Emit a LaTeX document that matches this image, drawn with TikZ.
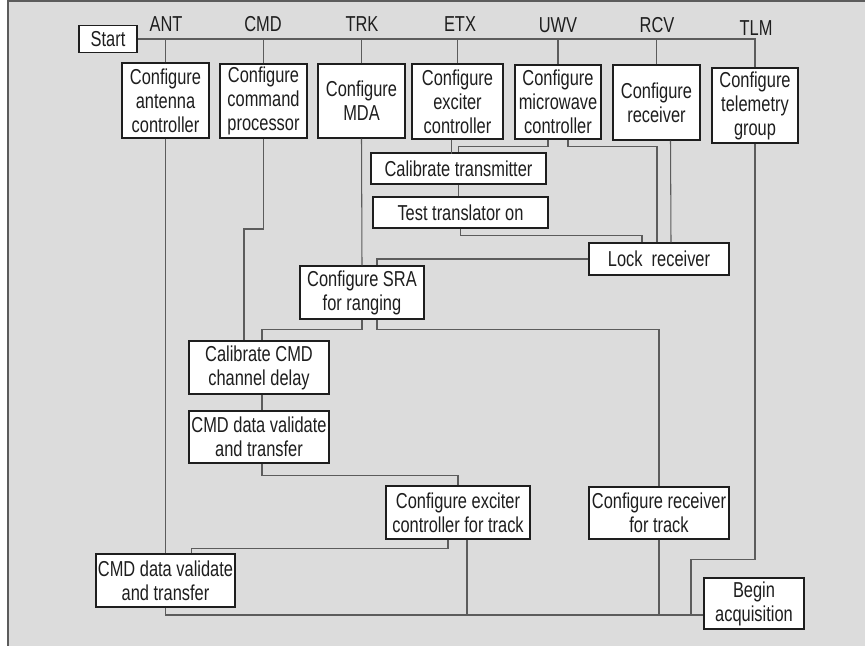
\documentclass[tikz,border=0pt]{standalone}
\usepackage{fontspec}
\setmainfont{Liberation Sans}[FakeStretch=0.76]
\usepackage{tikz}
\usetikzlibrary{calc}

\definecolor{paper}{HTML}{DCDCDC}
\definecolor{wirecol}{HTML}{5C5C5C}
\definecolor{inkcol}{HTML}{1E1E1E}

\tikzset{
  box/.style={draw=inkcol, line width=0.8pt, fill=white, text=inkcol, align=center, inner sep=0pt,
    font=\fontsize{12.3pt}{13.7pt}\selectfont},
  lbl/.style={text=inkcol, inner sep=0pt, font=\fontsize{12.3pt}{13.7pt}\selectfont},
  wire/.style={draw=wirecol, line width=0.6pt}
}

\begin{document}
\begin{tikzpicture}[x=0.02cm, y=-0.02cm]

\useasboundingbox (0,0) rectangle (865,646);
\fill [paper] (8,0) rectangle (865,646);
\draw [wirecol, line width=0.6pt] (8,0) -- (8,646);
\draw [wirecol, line width=0.6pt] (8,1) -- (865,1);

\node [box, minimum width=1.16cm, minimum height=0.54cm] (start) at (108,39) {Start};

\node [lbl] (lant) at (166,24) {ANT};
\node [lbl] (lcmd) at (263,24) {CMD};
\node [lbl] (ltrk) at (362,24) {TRK};
\node [lbl] (letx) at (460,24) {ETX};
\node [lbl] (luwv) at (558,25) {UWV};
\node [lbl] (lrcv) at (657,25) {RCV};
\node [lbl] (ltlm) at (756,28) {TLM};

\node [box, minimum width=1.74cm, minimum height=1.5cm] (ant) at (165.5,100.5) {Configure\\antenna\\controller};
\node [box, minimum width=1.74cm, minimum height=1.48cm] (cmd) at (263.5,101) {Configure\\command\\processor};
\node [box, minimum width=1.74cm, minimum height=1.48cm] (mda) at (361.5,101) {Configure\\MDA};
\node [box, minimum width=1.82cm, minimum height=1.5cm] (etx) at (457.5,101.5) {Configure\\exciter\\controller};
\node [box, minimum width=1.72cm, minimum height=1.48cm] (uwv) at (558,102) {Configure\\microwave\\controller};
\node [box, minimum width=1.74cm, minimum height=1.5cm] (rcv) at (656.5,102.5) {Configure\\receiver};
\node [box, minimum width=1.72cm, minimum height=1.5cm] (tlm) at (755,105.5) {Configure\\telemetry\\group};

\node [box, minimum width=3.5cm, minimum height=0.62cm] (caltx) at (458.5,168.5) {Calibrate transmitter};
\node [box, minimum width=3.5cm, minimum height=0.62cm] (testtr) at (460.5,212.5) {Test translator on};
\node [box, minimum width=2.8cm, minimum height=0.64cm] (lockrx) at (659,259) {Lock\ \ receiver};
\node [box, minimum width=2.48cm, minimum height=1.06cm] (sra) at (362,292.5) {Configure SRA\\for ranging};
\node [box, minimum width=2.8cm, minimum height=1.06cm] (calcmd) at (259,367.5) {Calibrate CMD\\channel delay};
\node [box, minimum width=2.8cm, minimum height=1.04cm] (cmdval) at (259,437) {CMD data validate\\and transfer};
\node [box, minimum width=2.88cm, minimum height=1.06cm] (exctrk) at (458,512.5) {Configure exciter\\controller for track};
\node [box, minimum width=2.8cm, minimum height=1.04cm] (rcvtrk) at (659,513) {Configure receiver\\for track};
\node [box, minimum width=2.78cm, minimum height=1.06cm] (cmdval2) at (165.5,580.5) {CMD data validate\\and transfer};
\node [box, minimum width=2.0cm, minimum height=1.02cm] (begacq) at (754,603.5) {Begin\\acquisition};

\coordinate (cmdjog) at (244,229);

% start bus
\draw [wire] (start.east) -| (tlm.north);
\draw [wire] (ant.north) -- (ant.north |- start.east);
\draw [wire] (cmd.north) -- (cmd.north |- start.east);
\draw [wire] (mda.north) -- (mda.north |- start.east);
\draw [wire] (etx.north) -- (etx.north |- start.east);
\draw [wire] (uwv.north) -- (uwv.north |- start.east);
\draw [wire] (rcv.north) -- (rcv.north |- start.east);

\draw [wire] (ant.south) -- (cmdval2.north);
\draw [wire] (cmd.south) |- (cmdjog) -- (cmdjog |- calcmd.north);
\draw [wire] (mda.south) -- (sra.north);

\draw [wire] ($(etx.south)+(-6,0)$) -- ++(0,14);
\draw [wire] ($(uwv.south)+(-10,0)$) -- ++(0,7) -| (caltx.north);
\draw [wire] ($(uwv.south)+(10,0)$) -- ++(0,7) -| ($(lockrx.north)+(-2,0)$);
\draw [wire] ($(rcv.south)+(14,0)$) -- ($(lockrx.north)+(12,0)$);
\draw [wire] (caltx.south) -- (caltx.south |- testtr.north);
\draw [wire] (testtr.south) -- ++(0,7) -| ($(lockrx.north)+(-17,0)$);
\draw [wire] (lockrx.west) -| ($(sra.north)+(15,0)$);

\draw [wire] (sra.south) -- ++(0,10) -| ($(calcmd.north)+(3,0)$);
\draw [wire] ($(sra.south)+(15,0)$) -- ++(0,10) -| (rcvtrk.north);
\draw [wire] ($(calcmd.south)+(3,0)$) -- ($(cmdval.north)+(3,0)$);
\draw [wire] ($(cmdval.south)+(3,0)$) -- ++(0,12) -| (exctrk.north);
\draw [wire] ($(exctrk.south)+(-10,0)$) -- ++(0,9) -| ($(cmdval2.north)+(26,0)$);

% end bus
\draw [wire] (cmdval2.south) |- ($(begacq.west)+(0,11.5)$);
\draw [wire] ($(exctrk.south)+(9,0)$) -- ++(0,76);
\draw [wire] (rcvtrk.south) -- ++(0,76);
\draw [wire] (tlm.south) -- ++(0,416) -| ++(-64,56);

\end{tikzpicture}
\end{document}
